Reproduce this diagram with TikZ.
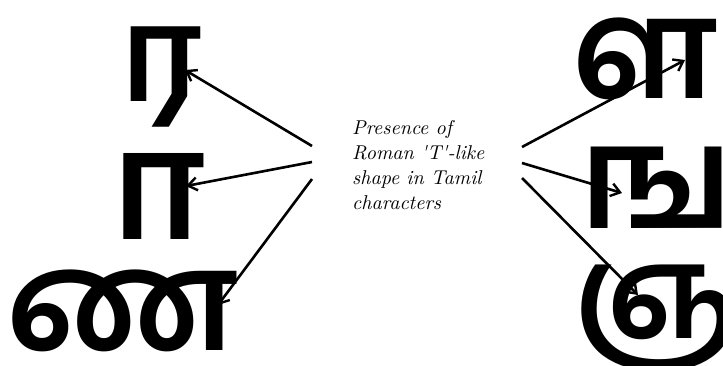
\documentclass[tikz,border=0pt]{standalone}
\usepackage{fontspec}
\newfontfamily\tamil[Script=Tamil]{Hind Madurai}
\newfontfamily\capfont{lmroman10-italic}[Extension=.otf]
\usetikzlibrary{arrows.meta}
\newcommand\rawglyph[1]{\XeTeXglyph\XeTeXcharglyph"#1\relax}
\begin{document}
\begin{tikzpicture}[x=1pt,y=-1pt,
  glyph/.style={inner sep=0pt,font=\tamil\bfseries\fontsize{#1}{#1}\selectfont},
  arr/.style={line width=2.6pt,-{Straight Barb[length=9pt,width=13pt,line width=2.4pt]}},
  caption/.style={inner sep=0pt,anchor=north west,align=left,font=\capfont\fontsize{20}{25}\selectfont}]
\useasboundingbox (0,0) rectangle (723,365);
\node[glyph=132] (ra) at (161,77) {ர};
\node[glyph=152] (aa) at (159,196) {\rawglyph{0BBE}};
\node[glyph=140] (nna) at (123,311) {ண};
\node[glyph=140] (lla) at (645,59) {ள};
\node[glyph=144] (nga) at (657,188) {ங};
\node[glyph=130] (nya) at (656,318) {ஞ};
\node[caption] (cap) at (352,120) {Presence of\\Roman 'T'-like\\shape in Tamil\\characters};
\coordinate (l1) at (312,146);
\coordinate (l2) at (312,162);
\coordinate (l3) at (312,179);
\coordinate (r1) at (522,147);
\coordinate (r2) at (522,163);
\coordinate (r3) at (522,178);
\coordinate (t1) at (185,70);
\coordinate (t2) at (186,186);
\coordinate (t3) at (218,305);
\coordinate (t4) at (685,60);
\coordinate (t5) at (622,193);
\coordinate (t6) at (638,295);
\draw[arr] (l1) -- (t1);
\draw[arr] (l2) -- (t2);
\draw[arr] (l3) -- (t3);
\draw[arr] (r1) -- (t4);
\draw[arr] (r2) -- (t5);
\draw[arr] (r3) -- (t6);
\end{tikzpicture}
\end{document}
